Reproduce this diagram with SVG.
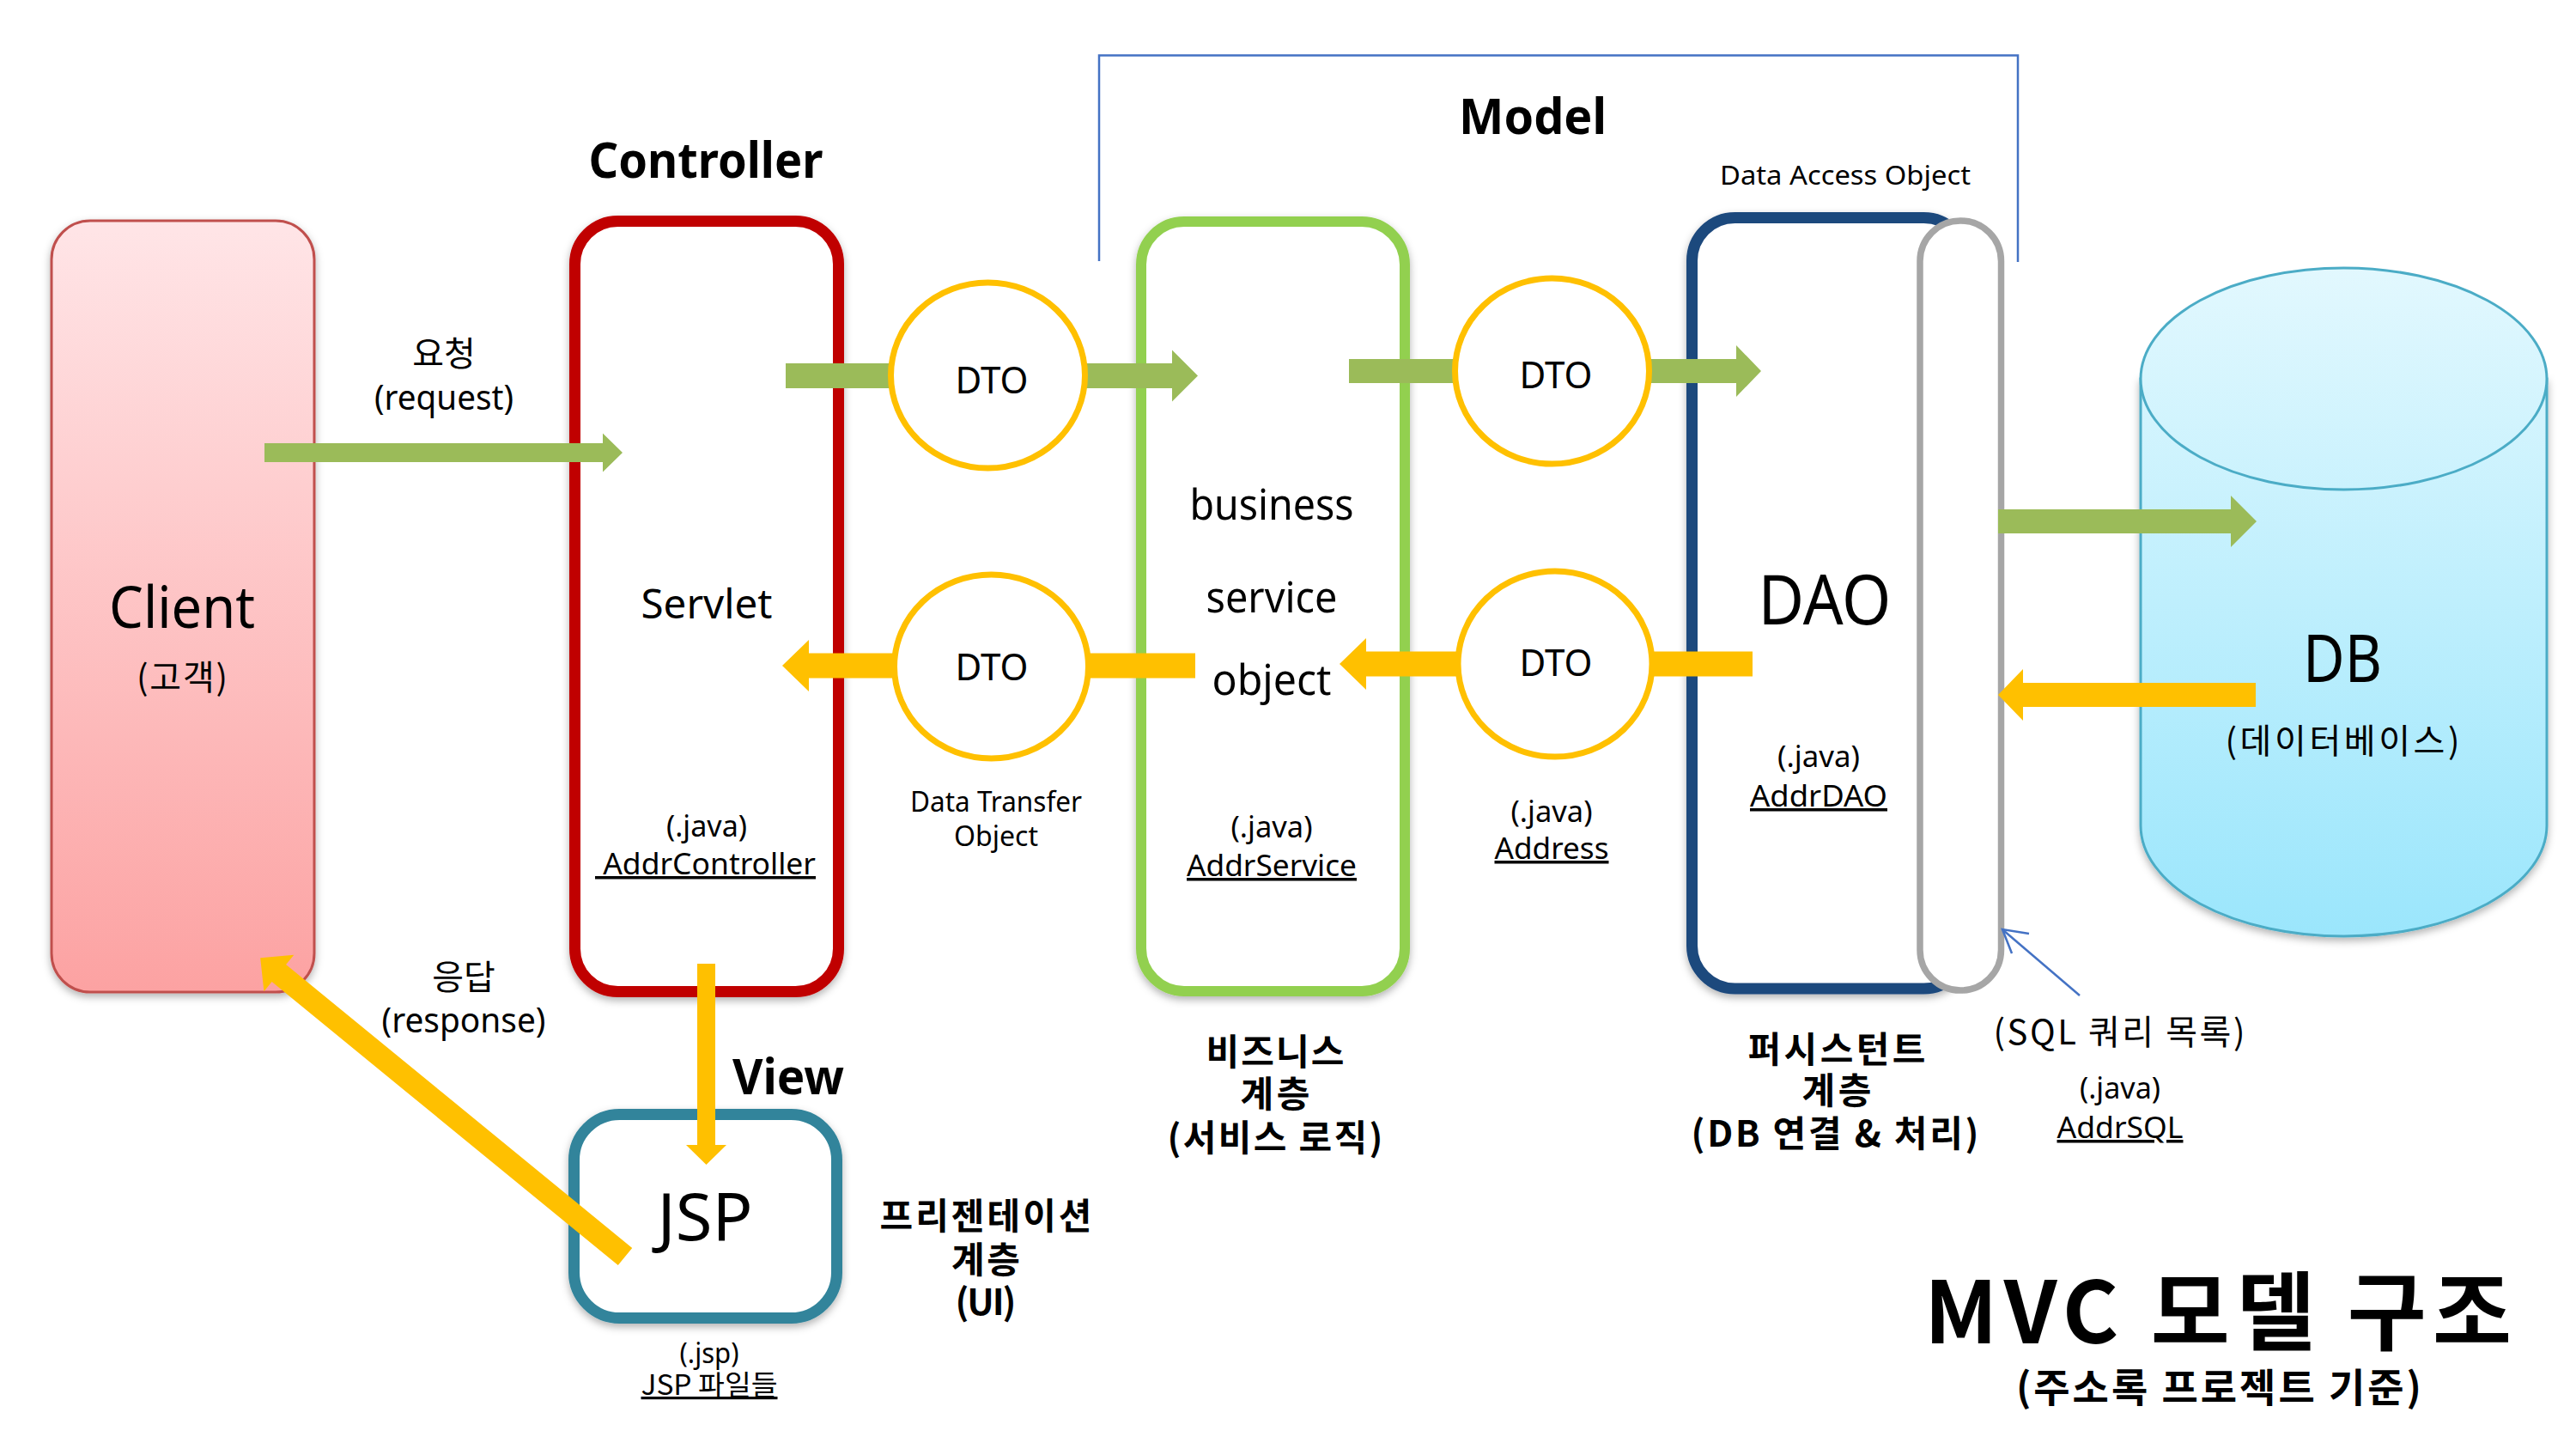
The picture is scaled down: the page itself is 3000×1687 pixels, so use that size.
<svg xmlns="http://www.w3.org/2000/svg" width="3000" height="1687" viewBox="0 0 3000 1687">
<defs>
<linearGradient id="gClient" x1="0" y1="0" x2="0" y2="1">
<stop offset="0" stop-color="#FFE5E7"/><stop offset="1" stop-color="#FCA2A2"/>
</linearGradient>
<linearGradient id="gDB" gradientUnits="userSpaceOnUse" x1="0" y1="312" x2="0" y2="1090">
<stop offset="0" stop-color="#E2F8FE"/><stop offset="1" stop-color="#9BE6FC"/>
</linearGradient>
<filter id="sh" x="-10%" y="-10%" width="120%" height="120%">
<feDropShadow dx="0" dy="4" stdDeviation="5" flood-color="#000" flood-opacity="0.3"/>
</filter>
<style>
.t{font-family:"Noto Sans","Noto Sans CJK KR",sans-serif;fill:#000;text-anchor:middle}
.k{font-family:"Noto Sans CJK KR","Noto Sans",sans-serif;fill:#000;text-anchor:middle}
.b{font-weight:bold}
.u{text-decoration:underline}
.box{fill:#fff;filter:url(#sh)}
.ga{fill:#9BBB59}
.ya{fill:#FFC000}
.dto{fill:#fff;stroke:#FFC000;stroke-width:7}
</style>
</defs>

<g id="model-bracket">
<path d="M1280,304 V64.5 H2350 V305" fill="none" stroke="#4472C4" stroke-width="2.5"/>
<text class="t b" x="1785" y="156" font-size="58" textLength="172" lengthAdjust="spacingAndGlyphs">Model</text>
<text class="t" x="2149" y="215" font-size="31" textLength="292" lengthAdjust="spacingAndGlyphs">Data Access Object</text>
</g>

<g id="client">
<rect x="60" y="257" width="306" height="898" rx="45" fill="url(#gClient)" stroke="#C0504D" stroke-width="3" filter="url(#sh)"/>
<text class="t" x="212" y="731" font-size="68" textLength="170" lengthAdjust="spacingAndGlyphs">Client</text>
<text class="k" x="212" y="803" font-size="40" textLength="106">(고객)</text>
</g>

<g id="controller">
<text class="t b" x="822" y="207" font-size="58" textLength="273" lengthAdjust="spacingAndGlyphs">Controller</text>
<rect class="box" x="669.5" y="257.5" width="307" height="897" rx="50" stroke="#C00000" stroke-width="13"/>
<text class="t" x="823" y="720" font-size="48" textLength="153" lengthAdjust="spacingAndGlyphs">Servlet</text>
<text class="t" x="823" y="974" font-size="35" textLength="94" lengthAdjust="spacingAndGlyphs">(.java)</text>
<text class="t u" x="821.5" y="1018" font-size="35" textLength="257" lengthAdjust="spacingAndGlyphs">&#160;AddrController</text>
</g>

<g id="business">
<rect class="box" x="1329" y="258" width="307" height="896" rx="50" stroke="#92D050" stroke-width="12"/>
<text class="t" x="1481" y="605" font-size="50" textLength="191" lengthAdjust="spacingAndGlyphs">business</text>
<text class="t" x="1481" y="713" font-size="50" textLength="153" lengthAdjust="spacingAndGlyphs">service</text>
<text class="t" x="1481" y="809" font-size="50" textLength="139" lengthAdjust="spacingAndGlyphs">object</text>
<text class="t" x="1481" y="975" font-size="35" textLength="95" lengthAdjust="spacingAndGlyphs">(.java)</text>
<text class="t u" x="1481" y="1020" font-size="35" textLength="198" lengthAdjust="spacingAndGlyphs">AddrService</text>
</g>

<g id="dao">
<rect class="box" x="1970.5" y="253.5" width="320" height="897.5" rx="50" stroke="#1F497D" stroke-width="13"/>
<text class="t" x="2125" y="727" font-size="80" textLength="155" lengthAdjust="spacingAndGlyphs">DAO</text>
<text class="t" x="2118" y="893" font-size="35" textLength="96" lengthAdjust="spacingAndGlyphs">(.java)</text>
<text class="t u" x="2118" y="939" font-size="35" textLength="160" lengthAdjust="spacingAndGlyphs">AddrDAO</text>
</g>

<g id="sql-list">
<rect x="2236" y="257" width="94.5" height="896" rx="47" ry="47" fill="#fff" stroke="#A6A6A6" stroke-width="7.5"/>
<text class="k" x="2468" y="1216" font-size="40" textLength="293">(SQL 쿼리 목록)</text>
<text class="t" x="2469" y="1279" font-size="35" textLength="94" lengthAdjust="spacingAndGlyphs">(.java)</text>
<text class="t u" x="2469" y="1325" font-size="35" textLength="147" lengthAdjust="spacingAndGlyphs">AddrSQL</text>
</g>

<g id="db">
<path d="M2493,441 V961 A236.5,129 0 0 0 2966,961 V441 Z" fill="url(#gDB)" stroke="#4BACC6" stroke-width="3" filter="url(#sh)"/>
<ellipse cx="2729.5" cy="441" rx="236.5" ry="129" fill="url(#gDB)" stroke="#4BACC6" stroke-width="3"/>
<text class="t" x="2728" y="794" font-size="76" textLength="92" lengthAdjust="spacingAndGlyphs">DB</text>
<text class="k" x="2728" y="877" font-size="40" textLength="273">(데이터베이스)</text>
</g>

<g id="jsp">
<rect class="box" x="668.5" y="1297.5" width="306" height="237" rx="53" stroke="#31849B" stroke-width="13"/>
<text class="t" x="821" y="1444" font-size="76" textLength="111" lengthAdjust="spacingAndGlyphs">JSP</text>
<text class="t b" x="918" y="1274" font-size="58" textLength="130" lengthAdjust="spacingAndGlyphs">View</text>
<text class="t" x="826" y="1587" font-size="32" textLength="69" lengthAdjust="spacingAndGlyphs">(.jsp)</text>
<text class="k u" x="826" y="1624" font-size="32" textLength="159" lengthAdjust="spacingAndGlyphs">JSP 파일들</text>
</g>

<g id="connectors">
<polygon class="ga" points="308,516 702,516 702,504.5 725,527 702,549.5 702,538 308,538"/>
<polygon class="ga" points="915,423 1365,423 1365,407.5 1395,437.5 1365,467.5 1365,452 915,452"/>
<polygon class="ga" points="1571,418 2022,418 2022,402 2051,432 2022,462 2022,446 1571,446"/>
<polygon class="ga" points="2327,593 2598,593 2598,577 2628,607 2598,637 2598,621 2327,621"/>
<polygon class="ya" points="1392,760.5 942,760.5 942,745 911,775 942,805 942,789.5 1392,789.5"/>
<polygon class="ya" points="2041,758.5 1591,758.5 1591,743 1560,773 1591,803 1591,787.5 2041,787.5"/>
<polygon class="ya" points="2627,795 2356,795 2356,779 2327,809 2356,839 2356,823 2627,823"/>
<polygon class="ya" points="812,1122 833,1122 833,1333 846,1333 822.5,1356 799,1333 812,1333"/>
<polygon class="ya" transform="translate(728,1463) rotate(219.3)" points="0,-13 521,-13 521,-27.5 549,0 521,27.5 521,13 0,13"/>
<line x1="2422" y1="1159" x2="2333" y2="1083" stroke="#4472C4" stroke-width="2.5"/>
<polyline points="2363,1087 2332,1082 2343,1110" fill="none" stroke="#4472C4" stroke-width="2.5"/>
<text class="k" x="517" y="426" font-size="40">요청</text>
<text class="t" x="517" y="477" font-size="40" textLength="162" lengthAdjust="spacingAndGlyphs">(request)</text>
<text class="k" x="540" y="1152" font-size="40">응답</text>
<text class="t" x="540" y="1202" font-size="40" textLength="191" lengthAdjust="spacingAndGlyphs">(response)</text>
</g>

<g id="dto-1">
<ellipse class="dto" cx="1150.5" cy="437" rx="113" ry="108"/>
<text class="t" x="1155" y="458" font-size="44" textLength="85" lengthAdjust="spacingAndGlyphs">DTO</text>
</g>
<g id="dto-2">
<ellipse class="dto" cx="1807.5" cy="432" rx="113" ry="108"/>
<text class="t" x="1812" y="452" font-size="44" textLength="85" lengthAdjust="spacingAndGlyphs">DTO</text>
</g>
<g id="dto-3">
<ellipse class="dto" cx="1154.5" cy="776" rx="113" ry="107"/>
<text class="t" x="1155" y="792" font-size="44" textLength="85" lengthAdjust="spacingAndGlyphs">DTO</text>
<text class="t" x="1160" y="945" font-size="32" textLength="200" lengthAdjust="spacingAndGlyphs">Data Transfer</text>
<text class="t" x="1160" y="985" font-size="32" textLength="98" lengthAdjust="spacingAndGlyphs">Object</text>
</g>
<g id="dto-4">
<ellipse class="dto" cx="1811" cy="773" rx="113" ry="108"/>
<text class="t" x="1812" y="787" font-size="44" textLength="85" lengthAdjust="spacingAndGlyphs">DTO</text>
<text class="t" x="1807" y="957" font-size="35" textLength="95" lengthAdjust="spacingAndGlyphs">(.java)</text>
<text class="t u" x="1807" y="1000" font-size="35" textLength="133" lengthAdjust="spacingAndGlyphs">Address</text>
</g>

<g id="layer-labels">
<text class="k b" x="1148" y="1431" font-size="42" textLength="247">프리젠테이션</text>
<text class="k b" x="1148" y="1482" font-size="42" textLength="80">계층</text>
<text class="k b" x="1148" y="1531" font-size="42" textLength="71">(UI)</text>
<text class="k b" x="1485" y="1240" font-size="42" textLength="161">비즈니스</text>
<text class="k b" x="1485" y="1289" font-size="42" textLength="81">계층</text>
<text class="k b" x="1485" y="1340" font-size="42" textLength="251">(서비스 로직)</text>
<text class="k b" x="2139" y="1237" font-size="42" textLength="207">퍼시스턴트</text>
<text class="k b" x="2139" y="1285" font-size="42" textLength="81">계층</text>
<text class="k b" x="2137" y="1335" font-size="42" textLength="335">(DB 연결 &amp; 처리)</text>
</g>

<g id="title">
<text class="k b" x="2583" y="1564" font-size="100" textLength="684">MVC 모델 구조</text>
<text class="k b" x="2584" y="1632" font-size="46" textLength="472">(주소록 프로젝트 기준)</text>
</g>
</svg>
